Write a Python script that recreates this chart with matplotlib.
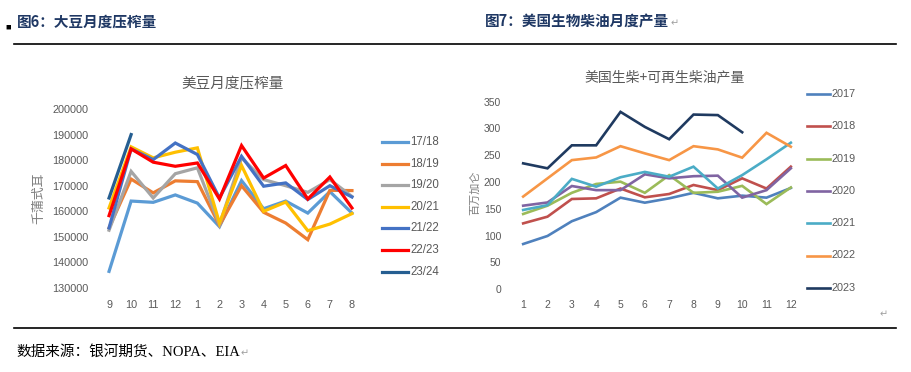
import numpy as np
import matplotlib
matplotlib.use("Agg")
import matplotlib.pyplot as plt
from matplotlib.lines import Line2D

plt.rcParams['font.family'] = ['Noto Sans CJK SC', 'DejaVu Sans']

# left chart: US soybean monthly crush (thousand bushels), crop year Sep-Aug
crush_months = ['9', '10', '11', '12', '1', '2', '3', '4', '5', '6', '7', '8']
crush_labels = ['17/18', '18/19', '19/20', '20/21', '21/22', '22/23', '23/24']
crush_colors = ['#5B9BD5', '#ED7D31', '#A5A5A5', '#FFC000', '#4472C4', '#FF0000', '#255E91']
crush_1718 = [136500, 164000, 163500, 166400, 163200, 154000, 172000, 161000, 164000, 159300, 167700, 159300]
crush_1819 = [153500, 172600, 167200, 171900, 171600, 154500, 170000, 159600, 155400, 148900, 168200, 168100]
crush_1920 = [152600, 175600, 165200, 174700, 177000, 154800, 180900, 172400, 170000, 167400, 172400, 165800]
crush_2021 = [161300, 185200, 180900, 183100, 184800, 155400, 177900, 160000, 163600, 152400, 155000, 159100]
crush_2122 = [153500, 184400, 180200, 186700, 182200, 165200, 181500, 169800, 171100, 164600, 170000, 165600]
crush_2223 = [158300, 184400, 179200, 177600, 178900, 164800, 185700, 173000, 177900, 164800, 173400, 161300]
crush_2324 = [165200, 190000]

# right chart: US biodiesel + renewable diesel output (million gallons)
fuel_months = ['1', '2', '3', '4', '5', '6', '7', '8', '9', '10', '11', '12']
fuel_labels = ['2017', '2018', '2019', '2020', '2021', '2022', '2023']
fuel_colors = ['#4F81BD', '#C0504D', '#9BBB59', '#8064A2', '#4BACC6', '#F79646', '#1F3A60']
fuel_2017 = [84.5, 99.5, 127, 144, 171, 161.6, 169.7, 180, 169.7, 174.7, 171, 189]
fuel_2018 = [123, 135.5, 168.5, 169.7, 188, 171.6, 177.8, 194.6, 185, 207, 188, 228.8]
fuel_2019 = [140.5, 156, 180, 196.5, 200.8, 180, 213, 180, 182, 193, 159, 190]
fuel_2020 = [156, 162, 192.7, 185, 185, 214.5, 207, 211, 212, 171, 185, 225.7]
fuel_2021 = [148, 157, 206, 191.5, 209, 219, 210, 228.8, 188, 213, 242.5, 273.5]
fuel_2022 = [173, 207, 241, 246, 267, 253.6, 241, 267, 261, 245.6, 292, 266]
fuel_2023 = [235, 225.7, 268.6, 268.6, 331, 303, 280, 326, 325, 293]

W, H = 911, 372
fig = plt.figure(figsize=(W / 100, H / 100), dpi=100)


def fx(x):
    return x / W


def fy(y):
    return 1 - y / H


def axes_px(x0, y0, x1, y1):
    return fig.add_axes([fx(x0), fy(y1), (x1 - x0) / W, (y1 - y0) / H])


grey = '#595959'
tick_font = 'Liberation Sans'

# ---------- left chart ----------
ax1 = axes_px(98, 109, 363, 288)
crush_series = [crush_1718, crush_1819, crush_1920, crush_2021, crush_2122, crush_2223, crush_2324]
for vals, col in zip(crush_series, crush_colors):
    ax1.plot(np.arange(len(vals)), vals, color=col, lw=2.3, solid_joinstyle='miter')
ax1.set_xlim(-0.5, 11.5)
ax1.set_ylim(130000, 200000)
ax1.set_yticks(np.arange(130000, 200001, 10000))
ax1.set_xticks(np.arange(12))
ax1.set_xticklabels(crush_months)
ax1.tick_params(length=0, labelsize=7.8, labelcolor=grey, pad=7)
ax1.tick_params(axis='x', pad=9)
for lab in ax1.get_xticklabels() + ax1.get_yticklabels():
    lab.set_fontfamily(tick_font)
for s in ax1.spines.values():
    s.set_visible(False)
ax1.patch.set_alpha(0)

fig.text(fx(233), fy(84), '美豆月度压榨量', ha='center', va='center', fontsize=10.5, color=grey)
fig.text(fx(39), fy(198), '千蒲式耳', ha='center', va='center', rotation=90, fontsize=9.3, color='#7f7f7f')

for i, (lab, col) in enumerate(zip(crush_labels, crush_colors)):
    y = 142 + i * 21.6
    fig.add_artist(Line2D([fx(382), fx(408)], [fy(y), fy(y)], color=col, lw=2.3))
    fig.text(fx(410), fy(y), lab, ha='left', va='center', fontsize=8.3, color=grey, family=tick_font)

# ---------- right chart ----------
ax2 = axes_px(511, 101.7, 803, 289.3)
fuel_series = [fuel_2017, fuel_2018, fuel_2019, fuel_2020, fuel_2021, fuel_2022, fuel_2023]
for vals, col in zip(fuel_series, fuel_colors):
    ax2.plot(np.arange(len(vals)), vals, color=col, lw=1.9, solid_joinstyle='miter')
ax2.set_xlim(-0.5, 11.5)
ax2.set_ylim(0, 350)
ax2.set_yticks(np.arange(0, 351, 50))
ax2.set_xticks(np.arange(12))
ax2.set_xticklabels(fuel_months)
ax2.tick_params(length=0, labelsize=7.5, labelcolor=grey, pad=7)
ax2.tick_params(axis='x', pad=8)
for lab in ax2.get_xticklabels() + ax2.get_yticklabels():
    lab.set_fontfamily(tick_font)
for s in ax2.spines.values():
    s.set_visible(False)
ax2.patch.set_alpha(0)

fig.text(fx(665), fy(77), '美国生柴+可再生柴油产量', ha='center', va='center', fontsize=10, color=grey)
fig.text(fx(475), fy(193), '百万加仑', ha='center', va='center', rotation=90, fontsize=8, color='#7f7f7f')

for i, (lab, col) in enumerate(zip(fuel_labels, fuel_colors)):
    y = 94 + i * 32.3
    fig.add_artist(Line2D([fx(807), fx(830)], [fy(y), fy(y)], color=col, lw=1.9))
    fig.text(fx(832), fy(y), lab, ha='left', va='center', fontsize=7.8, color=grey, family=tick_font)

# ---------- page furniture ----------
navy = '#1F3864'
ret_grey = '#a0a0a0'
fig.text(fx(5), fy(27), '■', ha='left', va='center', fontsize=4, color='black')
fig.text(fx(17), fy(22), '图6：大豆月度压榨量', ha='left', va='center', fontsize=10.5,
         fontweight='bold', color=navy)
head2 = fig.text(fx(485), fy(22), '图7：美国生物柴油月度产量', ha='left', va='center', fontsize=10.5,
                 fontweight='bold', color=navy)
fig.add_artist(Line2D([fx(14), fx(896)], [fy(44), fy(44)], color='black', lw=1.2))
fig.add_artist(Line2D([fx(14), fx(896)], [fy(328), fy(328)], color='black', lw=1.2))
fig.text(fx(880), fy(314), '↵', ha='left', va='center', fontsize=7, color=ret_grey)
foot = fig.text(fx(16), fy(352), '数据来源：银河期货、NOPA、EIA', ha='left', va='center', fontsize=10.5,
                color='black', family=['Liberation Serif', 'Noto Sans CJK SC'])

# paragraph marks right after the text they follow
fig.canvas.draw()
r = fig.canvas.get_renderer()
for t, yy in [(head2, 23), (foot, 353)]:
    bb = t.get_window_extent(r)
    fig.text(bb.x1 / W + 0.001, fy(yy), '↵', ha='left', va='center', fontsize=7, color=ret_grey)

fig.savefig('out.png', dpi=100)
